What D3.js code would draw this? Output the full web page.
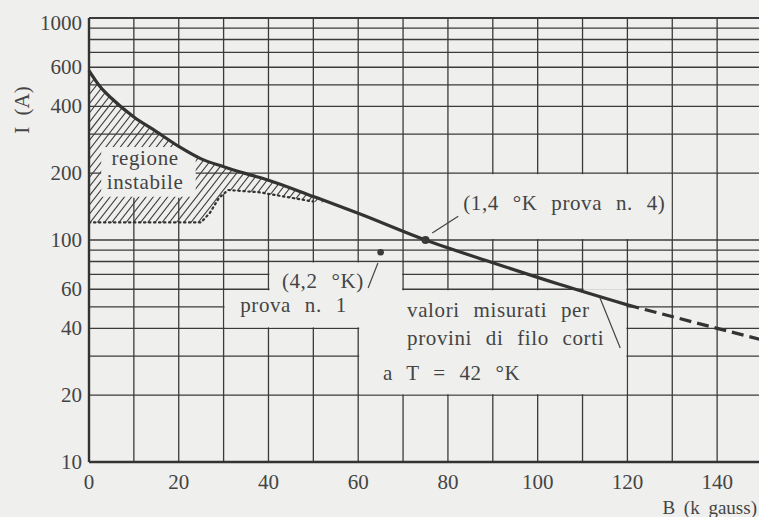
<!DOCTYPE html>
<html><head><meta charset="utf-8">
<script src="https://cdn.jsdelivr.net/npm/d3@7"></script>
<style>
html,body{margin:0;padding:0;background:#efefed;}
svg{display:block;}
text{font-family:"Liberation Serif","DejaVu Serif",serif;fill:#444;}
</style></head><body>
<svg id="chart" width="759" height="517"></svg>
<script>
// ---- data ----
const xTickLabels = [0, 20, 40, 60, 80, 100, 120, 140];
const yTickLabels = [10, 20, 40, 60, 100, 200, 400, 600, 1000];
const xGrid = [10, 20, 30, 40, 50, 60, 70, 80, 90, 100, 110, 120, 130, 140, 150];
const yGrid = [20, 30, 40, 50, 60, 70, 80, 90, 100, 200, 300, 400, 500, 600, 700, 800, 900, 1000];
// measured critical current curve (solid)
const curveB = [0, 2.5, 5, 10, 15, 20, 25, 30, 35, 40, 50, 60, 75, 90, 105, 120];
const curveI = [580, 490, 435, 358, 308, 264, 232, 214, 199, 186, 157, 132, 100, 79, 63, 51];
// extrapolated part (dashed)
const dashB = [120, 140, 150];
const dashI = [51, 40, 35.5];
// lower boundary of the unstable region (dotted)
const lowB = [0, 25, 27, 29, 31, 38, 50, 54];
const lowI = [120, 120, 133, 155, 168, 164, 149, 146.5];
// single test points
const pointB = [75, 65];
const pointI = [100, 88];

const svg = d3.select("#chart");
const x = d3.scaleLinear().domain([0, 150]).range([89, 762]);
const y = d3.scaleLog().domain([10, 1000]).range([462, 18]);
const gridCol = "#3b3b3b";

svg.append("rect").attr("width", 759).attr("height", 517).attr("fill", "#efefed");

// vertical grid
svg.append("g").selectAll("line").data(xGrid).join("line")
  .attr("x1", d => x(d)).attr("x2", d => x(d))
  .attr("y1", y(10)).attr("y2", y(1000))
  .attr("stroke", gridCol).attr("stroke-width", 1.3);

// unstable region polygon
const lineGen = d3.line().x(d => x(d[0])).y(d => y(d[1])).curve(d3.curveMonotoneX);
const topPts = curveB.map((b, i) => [b, curveI[i]]).filter(d => d[0] < 54);
topPts.push([lowB[lowB.length - 1], lowI[lowI.length - 1]]);
const lowPts = lowB.map((b, i) => [b, lowI[i]]);
let polyPath = lineGen(topPts);
lowPts.slice().reverse().forEach(p => { polyPath += "L" + x(p[0]) + "," + y(p[1]); });
polyPath += "Z";

const defs = svg.append("defs");
defs.append("clipPath").attr("id", "hatchClip").append("path").attr("d", polyPath);
defs.append("clipPath").attr("id", "upperClip").append("rect")
  .attr("x", 0).attr("y", 0).attr("width", 759).attr("height", y(155));

// hide vertical grid inside the upper hatched area
svg.append("g").attr("clip-path", "url(#upperClip)")
  .append("path").attr("d", polyPath).attr("fill", "#efefed");

// horizontal grid
svg.append("g").selectAll("line").data(yGrid).join("line")
  .attr("x1", x(0)).attr("x2", x(150))
  .attr("y1", d => y(d)).attr("y2", d => y(d))
  .attr("stroke", gridCol).attr("stroke-width", d => d === 1000 ? 1.8 : 1.3);

// hatch lines
const hg = svg.append("g").attr("clip-path", "url(#hatchClip)");
const yTop = y(700), yBot = y(100);
const slope = Math.tan(52 * Math.PI / 180);
const dxH = (yBot - yTop) / slope;
for (let k = x(0) - dxH - 10; k < x(60); k += 7.2) {
  hg.append("line").attr("x1", k).attr("y1", yBot).attr("x2", k + dxH).attr("y2", yTop)
    .attr("stroke", "#3f3f3f").attr("stroke-width", 1.1);
}

// blank (label) areas of the original drawing, in data units [b0,b1,i0,i1]
const blanks = [
  [80, 130, 100, 200],
  [40, 70, 40, 80],
  [30, 41, 40, 60],
  [69, 120, 20, 60],
  [60, 71, 20, 41],
  [110, 120, 59, 64],
  [2.5, 24, 155, 265]
];
svg.append("g").selectAll("rect").data(blanks).join("rect")
  .attr("x", d => x(d[0]) + 1).attr("y", d => y(d[3]) + 1)
  .attr("width", d => x(d[1]) - x(d[0]) - 2).attr("height", d => y(d[2]) - y(d[3]) - 2)
  .attr("fill", "#efefed");

// axes frame
svg.append("line").attr("x1", x(0)).attr("x2", x(0)).attr("y1", y(1000)).attr("y2", y(10))
  .attr("stroke", "#333").attr("stroke-width", 2.4);
svg.append("line").attr("x1", x(0)).attr("x2", x(150)).attr("y1", y(10)).attr("y2", y(10))
  .attr("stroke", "#333").attr("stroke-width", 2.4);

// dotted lower boundary
svg.append("path").attr("d", d3.line().x(d => x(d[0])).y(d => y(d[1]))(lowPts.slice(0, -1)))
  .attr("fill", "none").attr("stroke", "#333").attr("stroke-width", 2.2)
  .attr("stroke-dasharray", "1.4,3.6").attr("stroke-linecap", "round");

// solid curve
svg.append("path").attr("d", lineGen(curveB.map((b, i) => [b, curveI[i]])))
  .attr("fill", "none").attr("stroke", "#333").attr("stroke-width", 3.2);
// dashed extrapolation
svg.append("path").attr("d", d3.line().x(d => x(d[0])).y(d => y(d[1]))(dashB.map((b, i) => [b, dashI[i]])))
  .attr("fill", "none").attr("stroke", "#333").attr("stroke-width", 3.2)
  .attr("stroke-dasharray", "12,6");

// points
svg.append("g").selectAll("circle").data(pointB).join("circle")
  .attr("cx", d => x(d)).attr("cy", (d, i) => y(pointI[i]))
  .attr("r", (d, i) => i === 0 ? 4 : 3.3).attr("fill", "#3a3a3a");

// leader lines [b1,i1,b2,i2]
const leaders = [
  [76.5, 107.5, 82.3, 128],
  [64.4, 78.7, 62.2, 60.8],
  [113.9, 54.8, 118.4, 32.6]
];
svg.append("g").selectAll("line").data(leaders).join("line")
  .attr("x1", d => x(d[0])).attr("y1", d => y(d[1]))
  .attr("x2", d => x(d[2])).attr("y2", d => y(d[3]))
  .attr("stroke", "#444").attr("stroke-width", 1.2);

// tick labels
svg.append("g").selectAll("text").data(yTickLabels).join("text")
  .attr("x", 82).attr("y", d => Math.max(y(d), 23) + 7)
  .attr("text-anchor", "end").attr("font-size", 21).text(d => d);
svg.append("g").selectAll("text").data(xTickLabels).join("text")
  .attr("x", d => x(d)).attr("y", 489)
  .attr("text-anchor", "middle").attr("font-size", 21).text(d => d);

// axis titles
svg.append("text").attr("transform", "translate(29,110) rotate(-90)")
  .attr("text-anchor", "middle").attr("font-size", 21).attr("word-spacing", 6).text("I (A)");
svg.append("text").attr("x", 757).attr("y", 514)
  .attr("text-anchor", "end").attr("font-size", 19).attr("word-spacing", 4).text("B (k gauss)");

// annotations [text, b, i, anchor]
const notes = [
  ["(1,4 °K prova n. 4)", 83.4, 136, "start"],
  ["(4,2 °K)", 43, 60.8, "start"],
  ["prova n. 1", 33.7, 47.4, "start"],
  ["valori misurati per", 70.9, 45, "start"],
  ["provini di filo corti", 70.9, 33.6, "start"],
  ["a T = 42 °K", 65.5, 23.4, "start"],
  ["regione", 12.5, 218, "middle"],
  ["instabile", 12.5, 170, "middle"]
];
svg.append("g").selectAll("text").data(notes).join("text")
  .attr("x", d => x(d[1])).attr("y", d => y(d[2]))
  .attr("text-anchor", d => d[3]).attr("font-size", 21)
  .attr("letter-spacing", 0.6).attr("word-spacing", 8).text(d => d[0]);
</script>
</body></html>
